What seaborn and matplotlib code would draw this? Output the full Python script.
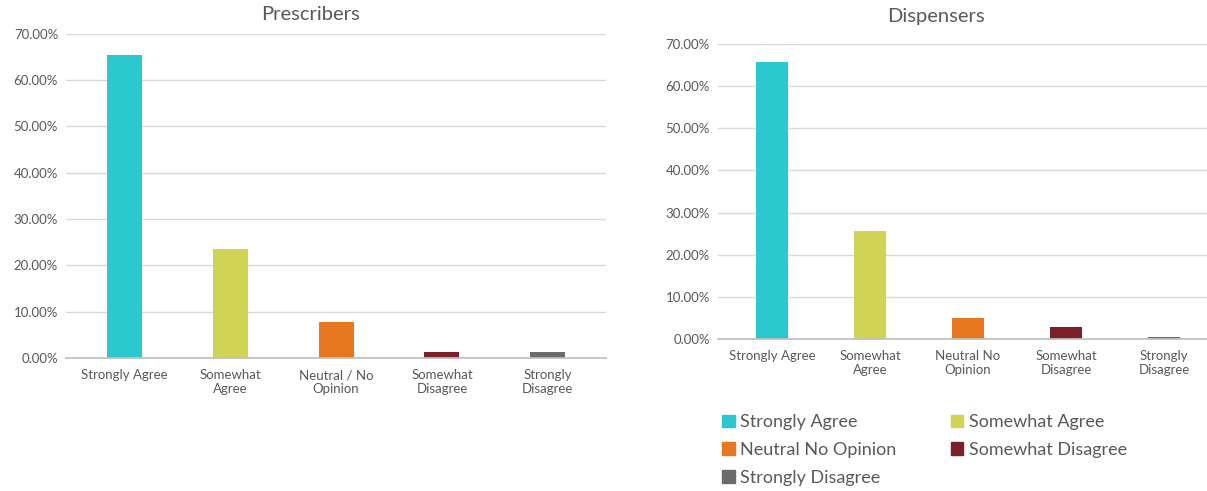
import matplotlib.pyplot as plt
import matplotlib.patches as mpatches
import seaborn as sns
import pandas as pd

# Survey response shares (%)
prescriber_labels = ["Strongly Agree", "Somewhat\nAgree", "Neutral / No\nOpinion",
                     "Somewhat\nDisagree", "Strongly\nDisagree"]
prescriber_values = [65.5, 23.5, 7.8, 1.2, 1.2]

dispenser_labels = ["Strongly Agree", "Somewhat\nAgree", "Neutral No\nOpinion",
                    "Somewhat\nDisagree", "Strongly\nDisagree"]
dispenser_values = [65.7, 25.6, 5.0, 2.8, 0.5]

legend_labels = ["Strongly Agree", "Somewhat Agree", "Neutral No Opinion",
                 "Somewhat Disagree", "Strongly Disagree"]
colors = ["#2BC8CF", "#D0D353", "#E8771F", "#7A2026", "#6B6B6B"]
yticks = [0, 10, 20, 30, 40, 50, 60, 70]

sns.set_theme(style="white")
plt.rcParams["font.family"] = ["Lato", "DejaVu Sans"]
text_color = "#595959"

fig = plt.figure(figsize=(12.07, 4.91), dpi=100)
ax1 = fig.add_axes([0.055, 0.271, 0.447, 0.66])
ax2 = fig.add_axes([0.595, 0.3096, 0.41, 0.6008])


def draw(ax, labels, values, title, xmax, title_x, title_pad):
    df = pd.DataFrame({"label": labels, "value": values})
    sns.barplot(data=df, x="label", y="value", hue="label", palette=colors,
                legend=False, width=0.33, ax=ax, saturation=1, linewidth=0)
    ax.set_ylim(0, 70)
    ax.set_xlim(-0.55, xmax)
    ax.set_yticks(yticks)
    ax.set_yticklabels([f"{v:.2f}%" for v in yticks])
    ax.yaxis.grid(True, color="#D9D9D9", linewidth=1)
    ax.set_axisbelow(True)
    for s in ["top", "right", "left"]:
        ax.spines[s].set_visible(False)
    ax.spines["bottom"].set_color("#BFBFBF")
    ax.tick_params(axis="y", length=0, labelsize=9.5, colors=text_color, pad=6)
    ax.tick_params(axis="x", length=0, labelsize=9.5, colors=text_color, pad=8)
    ax.set_xlabel("")
    ax.set_ylabel("")
    ax.set_title(title, fontsize=14.5, color=text_color, x=title_x, pad=title_pad)


draw(ax1, prescriber_labels, prescriber_values, "Prescribers", 4.55, 0.453, 10)
draw(ax2, dispenser_labels, dispenser_values, "Dispensers", 4.5, 0.44, 16)

order = [0, 2, 4, 1, 3]
handles = [mpatches.Patch(color=colors[i]) for i in order]
fig.legend(handles, [legend_labels[i] for i in order], ncol=2,
           loc="upper left", bbox_to_anchor=(706 / 1207, 1 - 398 / 491),
           frameon=False, fontsize=13, labelcolor=text_color,
           handlelength=0.7, handleheight=0.7, handletextpad=0.3,
           columnspacing=3.0, labelspacing=0.65)

plt.savefig("out.png", dpi=100)
plt.close()
